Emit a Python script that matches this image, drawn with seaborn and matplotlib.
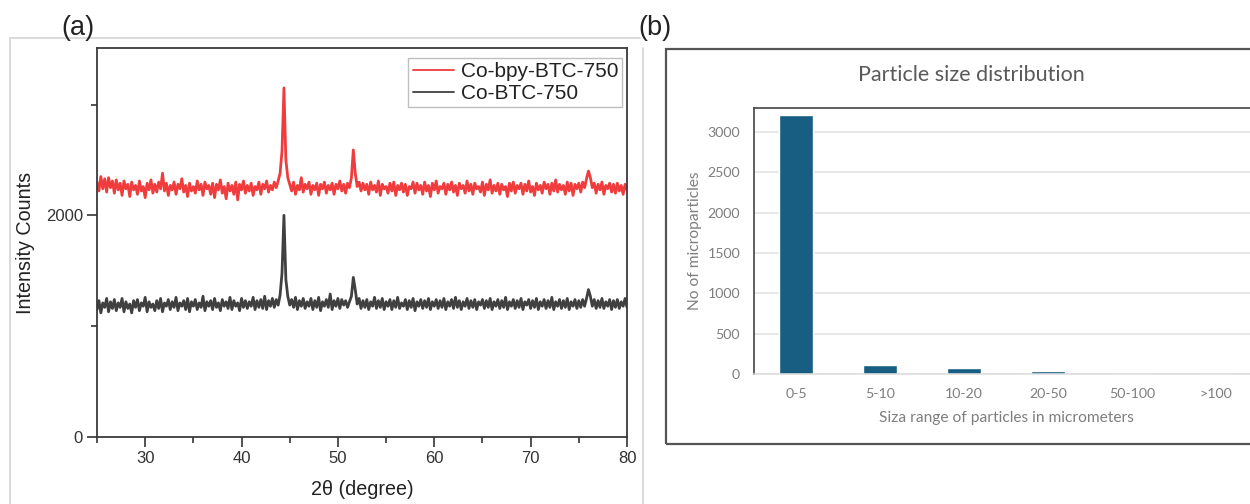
import numpy as np
import matplotlib
matplotlib.use("Agg")
import matplotlib.pyplot as plt
from matplotlib.patches import Rectangle
from matplotlib.lines import Line2D
from matplotlib.ticker import MultipleLocator
import seaborn as sns

# --- (a) XRD patterns, 2theta 25..80 sampled every 0.2 deg ---
two_theta = np.round(np.arange(25.0, 80.0001, 0.2), 1)

co_bpy_btc_750 = [
    2300, 2220, 2350, 2240, 2330, 2210, 2340, 2250, 2310, 2200,
    2320, 2230, 2290, 2180, 2310, 2240, 2280, 2170, 2300, 2230,
    2270, 2190, 2310, 2220, 2260, 2160, 2290, 2230, 2320, 2200,
    2280, 2210, 2300, 2240, 2380, 2220, 2290, 2180, 2270, 2230,
    2300, 2190, 2280, 2240, 2330, 2210, 2270, 2170, 2290, 2220,
    2260, 2200, 2310, 2230, 2280, 2180, 2300, 2240, 2270, 2190,
    2290, 2160, 2280, 2230, 2320, 2200, 2260, 2150, 2290, 2220,
    2270, 2190, 2300, 2140, 2280, 2230, 2310, 2200, 2270, 2220,
    2290, 2180, 2260, 2230, 2300, 2190, 2280, 2240, 2310, 2210,
    2270, 2230, 2300, 2250, 2310, 2380, 2580, 3150, 2500, 2340,
    2280, 2220, 2300, 2190, 2270, 2230, 2340, 2210, 2280, 2240,
    2300, 2190, 2270, 2230, 2290, 2180, 2280, 2240, 2300, 2200,
    2270, 2230, 2290, 2190, 2280, 2240, 2310, 2220, 2280, 2200,
    2290, 2250, 2340, 2590, 2380, 2260, 2300, 2220, 2290, 2230,
    2280, 2190, 2300, 2230, 2270, 2210, 2310, 2180, 2280, 2240,
    2260, 2200, 2290, 2220, 2300, 2180, 2270, 2230, 2290, 2210,
    2280, 2180, 2260, 2240, 2300, 2200, 2290, 2230, 2270, 2190,
    2300, 2220, 2270, 2170, 2290, 2230, 2310, 2200, 2260, 2240,
    2290, 2190, 2280, 2230, 2300, 2210, 2270, 2180, 2290, 2240,
    2270, 2200, 2310, 2220, 2280, 2190, 2290, 2240, 2260, 2210,
    2300, 2180, 2280, 2230, 2320, 2200, 2270, 2220, 2290, 2190,
    2280, 2230, 2260, 2170, 2290, 2220, 2300, 2200, 2270, 2240,
    2290, 2190, 2280, 2220, 2310, 2210, 2260, 2180, 2290, 2230,
    2270, 2200, 2300, 2240, 2280, 2190, 2290, 2220, 2320, 2210,
    2280, 2230, 2270, 2190, 2300, 2220, 2290, 2180, 2280, 2240,
    2290, 2210, 2300, 2250, 2330, 2400, 2340, 2250, 2290, 2200,
    2280, 2230, 2300, 2190, 2270, 2240, 2290, 2210, 2280, 2200,
    2290, 2220, 2270, 2190, 2280, 2230,
]

co_btc_750 = [
    1150, 1230, 1120, 1210, 1170, 1250, 1130, 1220, 1160, 1240,
    1140, 1210, 1170, 1250, 1130, 1220, 1160, 1200, 1120, 1230,
    1170, 1240, 1140, 1210, 1180, 1260, 1130, 1220, 1170, 1200,
    1140, 1230, 1160, 1250, 1130, 1210, 1180, 1240, 1150, 1220,
    1170, 1260, 1140, 1210, 1180, 1230, 1150, 1250, 1130, 1220,
    1180, 1240, 1150, 1210, 1170, 1270, 1140, 1220, 1180, 1230,
    1150, 1250, 1170, 1210, 1140, 1240, 1180, 1220, 1160, 1260,
    1150, 1230, 1180, 1210, 1140, 1250, 1170, 1230, 1160, 1220,
    1180, 1260, 1150, 1230, 1170, 1240, 1160, 1270, 1150, 1230,
    1180, 1250, 1170, 1240, 1190, 1280, 1480, 2000, 1420, 1270,
    1190, 1240, 1170, 1260, 1150, 1230, 1180, 1250, 1160, 1220,
    1180, 1250, 1150, 1230, 1170, 1260, 1140, 1220, 1180, 1240,
    1170, 1290, 1150, 1230, 1180, 1250, 1160, 1240, 1190, 1230,
    1170, 1220, 1270, 1440, 1330, 1200, 1250, 1160, 1230, 1170,
    1240, 1150, 1220, 1180, 1260, 1160, 1230, 1170, 1250, 1150,
    1220, 1180, 1240, 1150, 1230, 1170, 1260, 1160, 1210, 1180,
    1240, 1150, 1230, 1170, 1250, 1140, 1220, 1180, 1240, 1160,
    1230, 1170, 1250, 1150, 1220, 1180, 1240, 1160, 1230, 1170,
    1250, 1150, 1220, 1180, 1240, 1160, 1260, 1170, 1230, 1150,
    1220, 1180, 1250, 1160, 1230, 1170, 1240, 1150, 1220, 1190,
    1240, 1160, 1230, 1170, 1250, 1150, 1220, 1180, 1240, 1160,
    1230, 1170, 1260, 1150, 1220, 1180, 1240, 1160, 1230, 1170,
    1250, 1150, 1220, 1190, 1240, 1160, 1230, 1170, 1250, 1150,
    1220, 1180, 1240, 1160, 1230, 1170, 1260, 1150, 1220, 1180,
    1240, 1160, 1230, 1170, 1250, 1150, 1220, 1180, 1240, 1160,
    1230, 1170, 1240, 1180, 1250, 1330, 1270, 1180, 1240, 1160,
    1230, 1170, 1250, 1160, 1220, 1180, 1240, 1150, 1230, 1170,
    1240, 1160, 1220, 1180, 1250, 1170,
]

# --- (b) particle size distribution ---
size_ranges = ["0-5", "5-10", "10-20", "20-50", "50-100", ">100"]
particle_counts = [3210, 108, 75, 35, 0, 0]

sns.set_theme(style="white")
plt.rcParams["font.family"] = ["Liberation Sans", "DejaVu Sans"]

fig = plt.figure(figsize=(12.5, 5.04), dpi=100)

# panel frames (light grey lines of the original figure)
fig.add_artist(Line2D([10/1250, 640/1250], [1-38/504, 1-38/504], color="#d4d4d4", lw=1.2))
fig.add_artist(Line2D([10/1250, 10/1250], [0, 1-38/504], color="#d4d4d4", lw=1.2))
fig.add_artist(Line2D([643/1250, 643/1250], [0, 1-48/504], color="#d4d4d4", lw=1.2))

# ---------- (a) ----------
ax1 = fig.add_axes([97/1250, 1-437/504, 530/1250, 389/504])
sns.lineplot(x=two_theta, y=co_bpy_btc_750, ax=ax1, color="#f03c3c", lw=2.0, label="Co-bpy-BTC-750")
sns.lineplot(x=two_theta, y=co_btc_750, ax=ax1, color="#404040", lw=2.0, label="Co-BTC-750")
ax1.set_xlim(25, 80)
ax1.set_ylim(0, 3510)
ax1.xaxis.set_major_locator(MultipleLocator(10))
ax1.xaxis.set_minor_locator(MultipleLocator(5))
ax1.yaxis.set_major_locator(MultipleLocator(2000))
ax1.yaxis.set_minor_locator(MultipleLocator(1000))
ax1.tick_params(which="major", direction="out", length=7, width=1.2, color="#333333",
                labelsize=12, labelcolor="#333333", left=True, bottom=True, pad=3)
ax1.tick_params(which="minor", direction="out", length=4, width=1.2, color="#333333",
                left=True, bottom=True)
for s in ax1.spines.values():
    s.set_color("#3a3a3a")
    s.set_linewidth(1.3)
ax1.set_xlabel("2θ (degree)", fontsize=14.2, color="#222222", labelpad=10)
ax1.set_ylabel("Intensity Counts", fontsize=14.2, color="#222222", labelpad=8)
leg = ax1.legend(loc="upper right", bbox_to_anchor=(0.991, 0.975), borderaxespad=0,
                 fontsize=15, frameon=True, fancybox=False, handlelength=2.0,
                 handletextpad=0.3, labelspacing=0.15, borderpad=0.2)
leg.get_frame().set_edgecolor("#b0b0b0")
leg.get_frame().set_linewidth(1.0)
for h in leg.get_lines():
    h.set_linewidth(1.3)
for t in leg.get_texts():
    t.set_color("#222222")

fig.text(61/1250, 1-28/504, "(a)", fontsize=19.5, color="#222222", va="center", ha="left")
fig.text(638/1250, 1-28/504, "(b)", fontsize=19.5, color="#222222", va="center", ha="left")

# ---------- (b) ----------
fig.add_artist(Rectangle((666/1250, 1-444/504), 700/1250, 395/504, transform=fig.transFigure,
                         fill=False, edgecolor="#555555", lw=1.6))

ax2 = fig.add_axes([754/1250, 1-374/504, 504/1250, 266/504])
sns.barplot(x=size_ranges, y=particle_counts, ax=ax2, color="#175e82", width=0.4, saturation=1)
ax2.set_ylim(0, 3300)
ax2.set_xlim(-0.5, 5.5)
ax2.yaxis.set_major_locator(MultipleLocator(500))
ax2.grid(axis="y", color="#e2e2e2", lw=1.1)
ax2.set_axisbelow(True)
ax2.tick_params(axis="both", length=0, labelsize=10.2, labelcolor="#7e7e7e", labelfontfamily="Lato")
ax2.tick_params(axis="x", pad=10)
ax2.tick_params(axis="y", pad=10)
ax2.spines["left"].set_color("#444444")
ax2.spines["top"].set_color("#444444")
ax2.spines["left"].set_linewidth(1.2)
ax2.spines["top"].set_linewidth(1.2)
ax2.spines["bottom"].set_color("#dcdcdc")
ax2.spines["bottom"].set_linewidth(1.1)
ax2.spines["right"].set_visible(False)
ax2.set_xlabel("Siza range of particles in micrometers", fontsize=11.2, color="#7e7e7e",
               family="Lato", labelpad=8)
ax2.set_ylabel("No of microparticles", fontsize=11.2, color="#7e7e7e", family="Lato", labelpad=4)
fig.text(971/1250, 1-75/504, "Particle size distribution", fontsize=15.5, color="#5a5a5a",
         family="Lato", ha="center", va="center")

fig.savefig("out.png", dpi=100)
